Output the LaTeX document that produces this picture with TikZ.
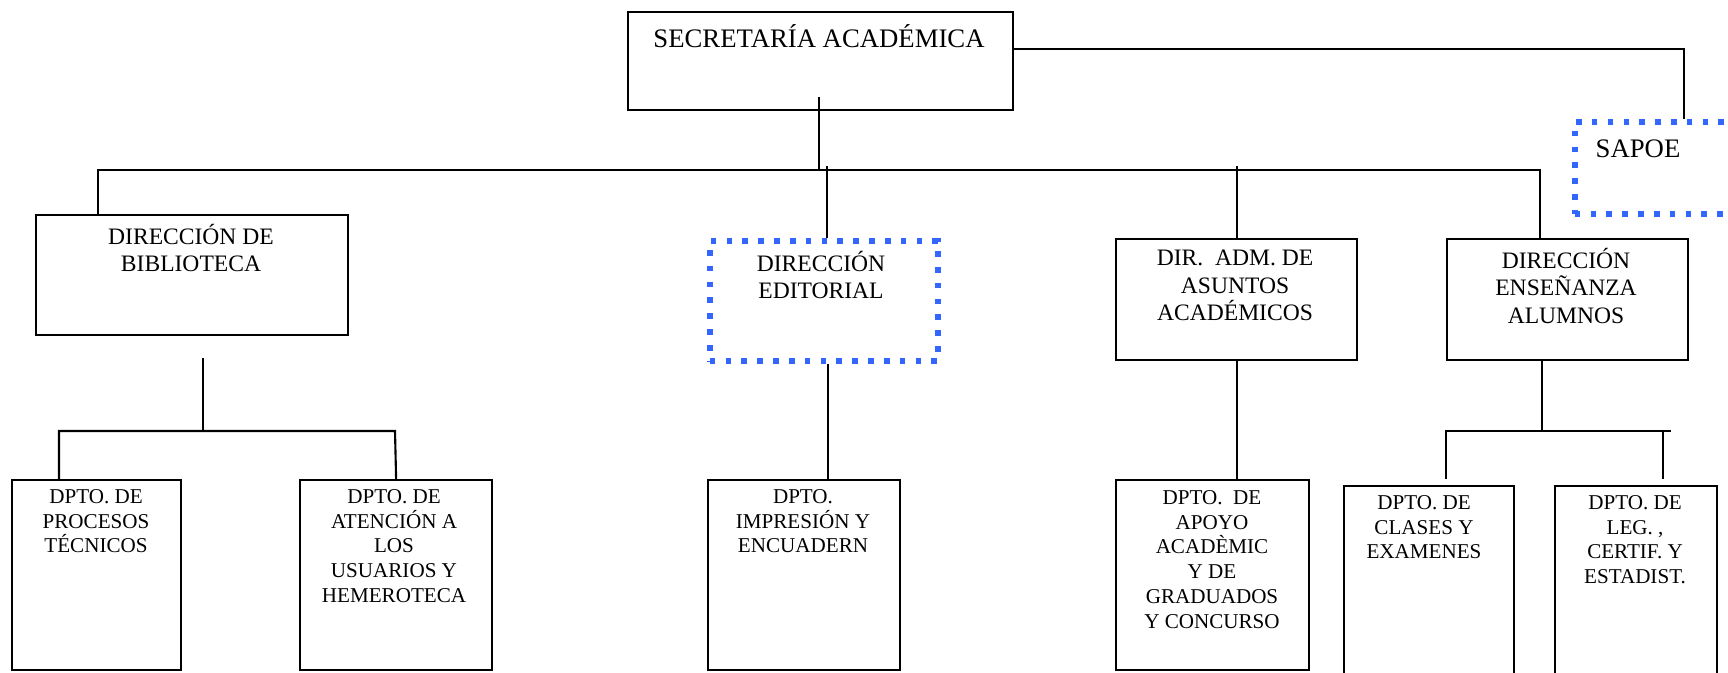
\documentclass[tikz,border=0pt]{standalone}
\usepackage{fontspec}
\setmainfont{Liberation Serif}
\usetikzlibrary{positioning}
\definecolor{dotblue}{RGB}{51,102,255}

\tikzset{
 unit/.style={draw, inner sep=0pt, anchor=north west},
 dotunit/.style={draw=dotblue, line width=1.6pt, dash pattern=on 1.6pt off 2.9pt, inner sep=0pt, anchor=north west},
 lbl/.style={anchor=north, inner sep=0pt, align=center, execute at begin node={\rule{0pt}{1em}}},
 big/.style={lbl, font=\fontsize{7.6pt}{9pt}\selectfont},
 mid/.style={lbl, font=\fontsize{6.7pt}{7.8pt}\selectfont},
 small/.style={lbl, font=\fontsize{6pt}{7.1pt}\selectfont},
}

\begin{document}
\begin{tikzpicture}[x=0.01cm, y=-0.01cm, line width=0.6pt]
 \useasboundingbox (0,0) rectangle (1728,672);
 \clip (0,0) rectangle (1728,672);
 \fill[white] (0,0) rectangle (1728,672);

 % boxes
 \node[unit, minimum width=3.85cm, minimum height=0.98cm] (sec) at (627,11) {};
 \node[dotunit, minimum width=2.50cm, minimum height=0.92cm] (sapoe) at (1572,119) {};
 \node[unit, minimum width=3.12cm, minimum height=1.20cm] (bib) at (35,214) {};
 \node[dotunit, minimum width=2.28cm, minimum height=1.20cm] (edit) at (707,238) {};
 \node[unit, minimum width=2.41cm, minimum height=1.21cm] (adm) at (1115,238) {};
 \node[unit, minimum width=2.41cm, minimum height=1.21cm] (ens) at (1446,238) {};
 \node[unit, minimum width=1.69cm, minimum height=1.90cm] (proc) at (11,479) {};
 \node[unit, minimum width=1.92cm, minimum height=1.90cm] (aten) at (299,479) {};
 \node[unit, minimum width=1.92cm, minimum height=1.90cm] (impr) at (707,479) {};
 \node[unit, minimum width=1.93cm, minimum height=1.90cm] (apoyo) at (1115,479) {};
 \node[unit, minimum width=1.70cm, minimum height=2.50cm] (clases) at (1343,485) {};
 \node[unit, minimum width=1.62cm, minimum height=2.50cm] (leg) at (1554,485) {};

 % texts
 \node[big] (sect) at (819,20) {SECRETARÍA ACADÉMICA};
 \node[big] (sapoet) at (1638,130) {SAPOE};
 \node[mid] (bibt) at (191,223) {DIRECCIÓN DE\\BIBLIOTECA};
 \node[mid] (editt) at (821,250) {DIRECCIÓN\\EDITORIAL};
 \node[mid] (admt) at (1235,249) {DIR.\ \ ADM. DE\\ASUNTOS\\ACADÉMICOS};
 \node[mid] (enst) at (1566,247) {DIRECCIÓN\\ENSEÑANZA\\ALUMNOS};
 \node[small] (proct) at (96,488) {DPTO. DE\\PROCESOS\\TÉCNICOS};
 \node[small] (atent) at (394,488) {DPTO. DE\\ATENCIÓN A\\LOS\\USUARIOS Y\\HEMEROTECA};
 \node[small] (imprt) at (803,488) {DPTO.\\IMPRESIÓN Y\\ENCUADERN};
 \node[small] (apoyot) at (1212,489) {DPTO.\ \ DE\\APOYO\\ACADÈMIC\\Y DE\\GRADUADOS\\Y CONCURSO};
 \node[small] (clasest) at (1424,494) {DPTO. DE\\CLASES Y\\EXAMENES};
 \node[small] (legt) at (1635,494) {DPTO. DE\\LEG. ,\\CERTIF. Y\\ESTADIST.};

 % first level
 \coordinate (top) at (819,97);
 \coordinate (busl) at (98,170);
 \coordinate (busr) at (1540,170);
 \draw (top) -- (top |- busl);
 \draw (bib.north -| busl) -- (busl) -- (busr) -- (ens.north -| busr);
 \draw (edit.north -| 827,0) -- (827,166);
 \draw (adm.north) -- (adm.north |- 0,166);
 \draw (sec.east |- 0,49) -| (sapoe.north -| 1684,0);

 % second level
 \coordinate (bibbus) at (203,431);
 \draw (bibbus) -- (203,358);
 \draw (proc.north -| 59,0) -- (59,431) -- (395,431) -- (aten.north);
 \draw (edit.south -| 828,0) -- (impr.north -| 828,0);
 \draw (adm.south) -- (apoyo.north -| adm.south);
 \coordinate (ensbus) at (1542,431);
 \draw (ens.south -| ensbus) -- (ensbus);
 \draw (1446,479) -- (1446,431) -- (1671,431);
 \draw (1663,431) -- (1663,479);
\end{tikzpicture}
\end{document}
